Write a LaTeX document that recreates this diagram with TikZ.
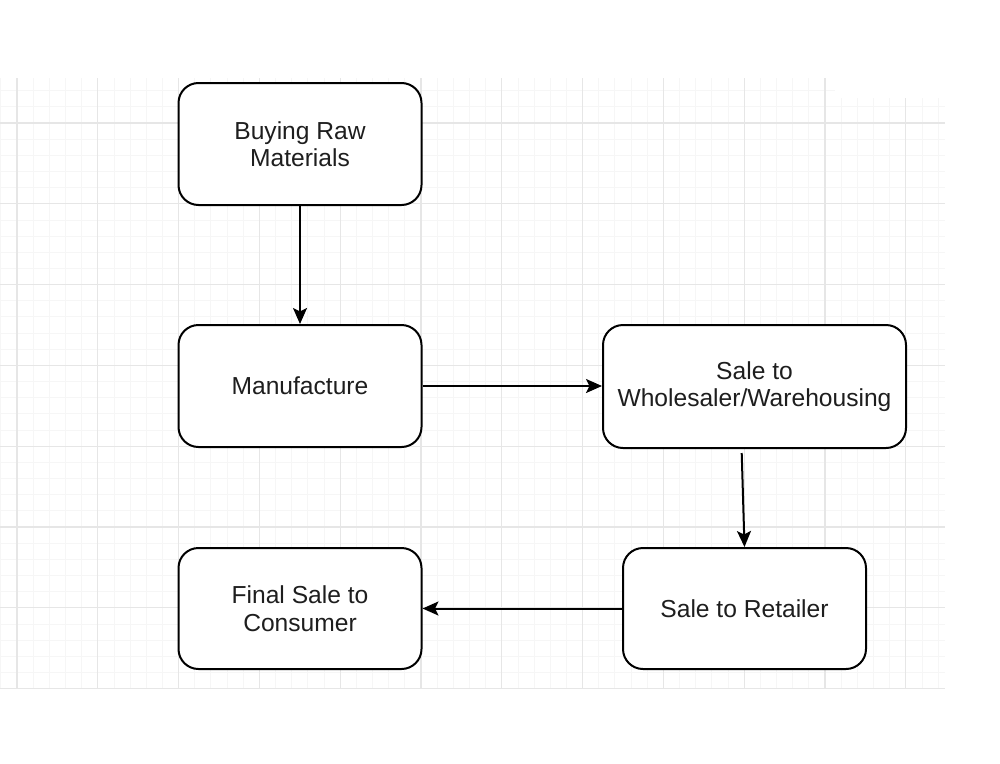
\documentclass[tikz,border=0pt]{standalone}
\usepackage{fontspec}
\setmainfont{Liberation Sans}
\usetikzlibrary{arrows.meta}
\definecolor{gridmajor}{HTML}{E6E6E6}
\definecolor{gridminor}{HTML}{F6F6F6}
\definecolor{txt}{HTML}{1E1E1E}
\tikzset{
  stepbox/.style={draw=black, line width=2pt, rounded corners=20pt, fill=white,
    minimum width=243pt, minimum height=122pt, inner sep=0pt, align=center,
    text=txt, font=\fontsize{24.6}{27.5}\selectfont},
  flow/.style={draw=black, line width=2pt,
    -{Stealth[length=16pt,width=14pt,inset=3.5pt]}},
}
\begin{document}
\begin{tikzpicture}[x=1pt,y=-1pt]
\useasboundingbox (0,0) rectangle (1000,763);
\fill[white] (0,0) rectangle (1000,763);
% minor grid
\foreach \i in {0,...,58} {
  \pgfmathsetmacro{\xx}{17+16.16*(\i-1)}
  \ifdim \xx pt>0pt \ifdim \xx pt<945pt
    \draw[gridminor, line width=0.9pt] (\xx,78) -- (\xx,688);
  \fi\fi
}
\foreach \j in {-1,...,38} {
  \pgfmathsetmacro{\yy}{123+16.16*(\j-3)}
  \ifdim \yy pt>78pt \ifdim \yy pt<689pt
    \draw[gridminor, line width=0.9pt] (0,\yy) -- (945,\yy);
  \fi\fi
}
% major grid
\foreach \i in {0,...,11} {
  \draw[gridmajor, line width=1.1pt] ({17+80.8*\i},78) -- ({17+80.8*\i},688);
}
\foreach \j in {0,...,7} {
  \draw[gridmajor, line width=1.1pt] (0,{123+80.8*\j}) -- (945,{123+80.8*\j});
}
\fill[white] (835,77) rectangle (946,98);
% nodes
\node[stepbox] (n1) at (300,144) {Buying Raw\\Materials};
\node[stepbox] (n2) at (300,386) {Manufacture};
\node[stepbox, minimum width=303pt, minimum height=123pt] (n3) at (754.5,386.5) {Sale to\\Wholesaler/Warehousing};
\node[stepbox, minimum height=121pt] (n4) at (744.5,608.5) {Sale to Retailer};
\node[stepbox, minimum height=121pt] (n5) at (300,608.5) {Final Sale to\\Consumer};
\coordinate (s3) at (741.7,453);
% connectors
\draw[flow] (n1.south) -- (n2.north);
\draw[flow] (n2.east) -- (n3.west |- n2.east);
\draw[flow] (s3) -- (n4.north);
\draw[flow] (n4.west) -- (n5.east);
\end{tikzpicture}
\end{document}
